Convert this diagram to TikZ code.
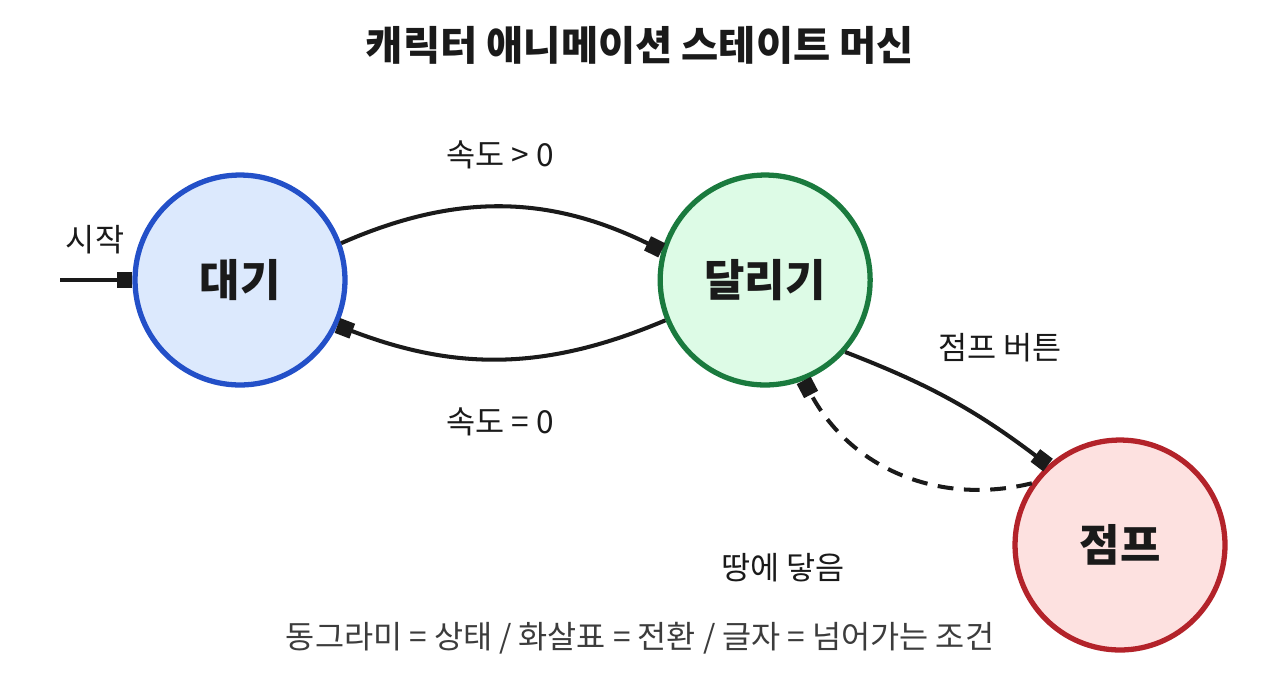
\documentclass[tikz,border=0pt]{standalone}
\usepackage{fontspec}
\setmainfont{Noto Sans CJK KR}
\usetikzlibrary{positioning, arrows.meta}
\definecolor{azul}{HTML}{2350C8}
\definecolor{verde}{HTML}{1A7A3E}
\definecolor{verm}{HTML}{B3232A}
\definecolor{azulc}{HTML}{DCE9FD}
\definecolor{verdec}{HTML}{DDFBE6}
\definecolor{vermc}{HTML}{FDE1E0}
\definecolor{tinta}{HTML}{1A1A1A}

\begin{document}
\begin{tikzpicture}[x=0.02cm, y=-0.02cm,
        node distance=6.2cm,
        st/.style={circle, minimum size=4.2cm, line width=3pt, font=\fontsize{25}{30}\selectfont\bfseries, text=tinta},
        rot/.style={font=\fontsize{18}{22}\selectfont, text=tinta},
        fl/.style={-{Square[length=9pt, width=9pt]}, line width=2.3pt, tinta}]
        \useasboundingbox (0,0) rectangle (1280,680);
        \node[font=\fontsize{23}{28}\selectfont\bfseries, text=tinta] (titulo) at (640,45) {캐릭터 애니메이션 스테이트 머신};
        \node[st, draw=azul, fill=azulc] (idle) at (240,280) {대기};
        \node[st, draw=verde, fill=verdec, right=of idle] (run) {달리기};
        \node[st, draw=verm, fill=vermc] (jump) at (1120,545) {점프};
        \coordinate (ini) at (60,280);
        \node[rot] (lini) at (95,240) {시작};
        \node[rot] (l1) at (500,155) {속도 > 0};
        \node[rot] (l2) at (500,422) {속도 = 0};
        \node[rot] (l3) at (1000,348) {점프 버튼};
        \node[rot] (l4) at (783,568) {땅에 닿음};
        \node[rot, text=tinta!85] (leg) at (640,638) {동그라미 = 상태 / 화살표 = 전환 / 글자 = 넘어가는 조건};
        \draw[fl] (ini) -- (idle.180);
        \draw[fl] (idle.20) to[bend left=25] (run.164);
        \draw[fl] (run.202) to[bend left=22] (idle.335);
        \draw[fl] (run.318) to[bend left=8] (jump.132);
        \draw[fl, dashed, dash pattern=on 9pt off 6pt] (jump.145) to[bend left=38] (run.291);
    \end{tikzpicture}
\end{document}
